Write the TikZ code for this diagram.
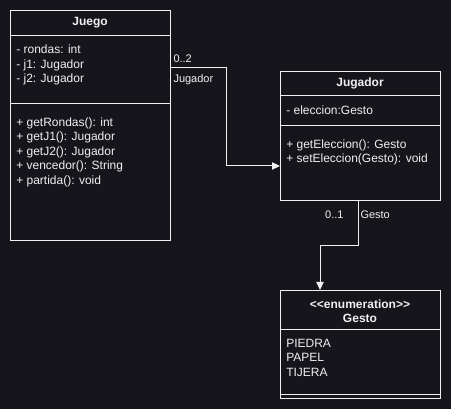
\documentclass[tikz,border=0pt]{standalone}
\usepackage{fontspec}
\setmainfont{Liberation Sans}
\usetikzlibrary{arrows.meta}

\definecolor{bgdark}{RGB}{23,21,28}
\definecolor{lineclr}{RGB}{240,240,240}

\tikzset{
  umlbox/.style={draw=lineclr, line width=0.75pt, rectangle, anchor=north west, minimum width=120pt, inner sep=0pt},
  umltitle/.style={text=lineclr, font=\fontsize{9}{10.5}\selectfont\bfseries, align=center, inner sep=0pt},
  umltext/.style={text=lineclr, font=\fontsize{9}{10.875}\selectfont, align=left, anchor=north west, inner sep=0pt},
  assoc/.style={draw=lineclr, line width=0.75pt, -{Triangle[length=6pt,width=5.5pt]}},
  multlabel/.style={text=lineclr, font=\fontsize{8.25}{10}\selectfont, inner sep=0pt, fill=bgdark},
}

\begin{document}
\begin{tikzpicture}[x=0.75pt,y=0.75pt,yscale=-1,xscale=1]
% background
\path [fill=bgdark] (0,0) rectangle (451,409);

% Juego
\node [umlbox, minimum height=172.5pt] (juego) at (10,10) {};
\draw [lineclr, line width=0.75pt] ([yshift=19.5pt]juego.north west) -- ([yshift=19.5pt]juego.north east);
\draw [lineclr, line width=0.75pt] ([yshift=70.5pt]juego.north west) -- ([yshift=70.5pt]juego.north east);
\node [umltitle] (juegoTitle) at (90,23) {Juego};
\node [umltext] (juegoAttr) at (16,45) {- rondas: int\\- j1: Jugador\\- j2: Jugador};
\node [umltext] (juegoOps) at (16,117.5) {+ getRondas(): int\\+ getJ1(): Jugador\\+ getJ2(): Jugador\\+ vencedor(): String\\+ partida(): void};

% Jugador
\node [umlbox, minimum height=96.75pt] (jugador) at (280,71) {};
\draw [lineclr, line width=0.75pt] ([yshift=18.75pt]jugador.north west) -- ([yshift=18.75pt]jugador.north east);
\draw [lineclr, line width=0.75pt] ([yshift=41.25pt]jugador.north west) -- ([yshift=41.25pt]jugador.north east);
\node [umltitle] (jugadorTitle) at (360,83) {Jugador};
\node [umltext] (jugadorAttr) at (286,105.5) {- eleccion:Gesto};
\node [umltext] (jugadorOps) at (286,139.5) {+ getEleccion(): Gesto\\+ setEleccion(Gesto): void};

% Gesto
\node [umlbox, minimum height=81pt] (gesto) at (280,290) {};
\draw [lineclr, line width=0.75pt] ([yshift=30pt]gesto.north west) -- ([yshift=30pt]gesto.north east);
\draw [lineclr, line width=0.75pt] ([yshift=-3pt]gesto.south west) -- ([yshift=-3pt]gesto.south east);
\node [umltitle] (gestoTitle) at (360,311) {<{}<enumeration>{}>\\Gesto};
\node [umltext] (gestoItems) at (286,338.5) {PIEDRA\\PAPEL\\TIJERA};

% Juego -> Jugador
\draw [assoc] ([yshift=43.5pt]juego.north east)
  node [multlabel, anchor=south west, xshift=1.5pt, yshift=3.75pt] (multJ) {0..2}
  node [multlabel, anchor=north west, xshift=1.5pt, yshift=-4.5pt] (roleJ) {Jugador}
  -- ++(55,0) |- ([yshift=71.25pt]jugador.north west);

% Jugador -> Gesto
\draw [assoc] ([xshift=58.5pt]jugador.south west)
  node [multlabel, anchor=north east, xshift=-10.5pt, yshift=-6.75pt] (multG) {0..1}
  node [multlabel, anchor=north west, xshift=1.5pt, yshift=-6.75pt] (roleG) {Gesto}
  -- ++(0,45) -| ([xshift=30pt]gesto.north west);

\end{tikzpicture}
\end{document}
